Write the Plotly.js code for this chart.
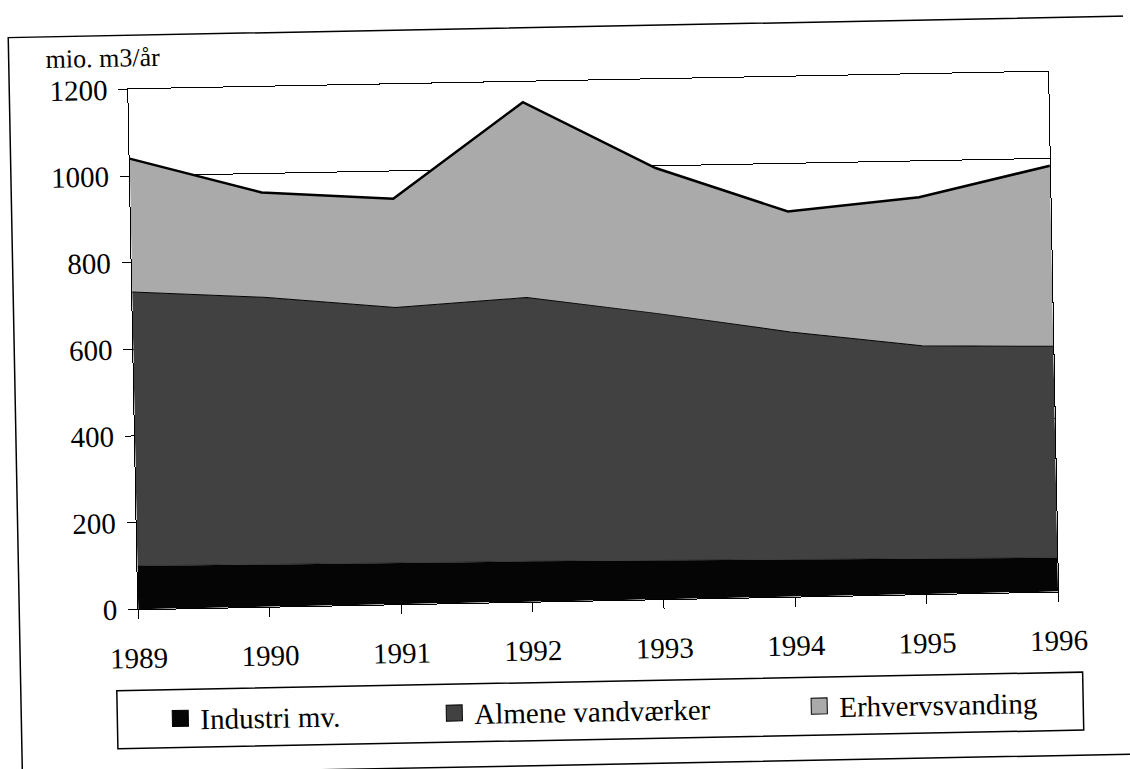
<!DOCTYPE html>
<html>
<head>
<meta charset="utf-8">
<script src="https://cdn.plot.ly/plotly-3.0.1.min.js"></script>
<style>
html, body { margin:0; padding:0; overflow:hidden; background:#fff; width:1130px; height:769px; }
#chart { width:1130px; height:769px; transform: rotate(-1.1deg); transform-origin: 565px 384.5px; }
</style>
</head>
<body>
<div id="chart"></div>
<script>
// Data (mio. m3 per year)
const years = [1989, 1990, 1991, 1992, 1993, 1994, 1995, 1996];
const industri = [100, 97, 95, 93, 89, 86, 82, 78];
const almene   = [632, 617, 590, 609, 570, 525, 491, 488];
const erhverv  = [308, 242, 251, 451, 336, 278, 343, 417];
const seriesNames = ['Industri mv.', 'Almene vandværker', 'Erhvervsvanding'];
const yTicks = [0, 200, 400, 600, 800, 1000, 1200];
const unitLabel = 'mio. m3/år';

const colInd = '#050505', colAlm = '#414141', colErh = '#aaaaaa';
const serif = 'Liberation Serif';

const traces = [
  {x: years, y: industri, type: 'scatter', mode: 'lines', stackgroup: 'one',
   fillcolor: colInd, line: {color: colInd, width: 0.5}, showlegend: false, hoverinfo: 'skip'},
  {x: years, y: almene, type: 'scatter', mode: 'lines', stackgroup: 'one',
   fillcolor: colAlm, line: {color: '#000', width: 1}, showlegend: false, hoverinfo: 'skip'},
  {x: years, y: erhverv, type: 'scatter', mode: 'lines', stackgroup: 'one',
   fillcolor: colErh, line: {color: '#000', width: 2.5}, showlegend: false, hoverinfo: 'skip'},
  // legend entries
  {x: [null], y: [null], type: 'scatter', mode: 'markers', name: seriesNames[0], legend: 'legend',
   marker: {symbol: 'square', size: 18, color: colInd, line: {color: '#000', width: 1}}},
  {x: [null], y: [null], type: 'scatter', mode: 'markers', name: seriesNames[1], legend: 'legend2',
   marker: {symbol: 'square', size: 18, color: colAlm, line: {color: '#000', width: 1}}},
  {x: [null], y: [null], type: 'scatter', mode: 'markers', name: seriesNames[2], legend: 'legend3',
   marker: {symbol: 'square', size: 18, color: colErh, line: {color: '#000', width: 1}}}
];

const L = 134, R = 76, T = 81, B = 168;
const PW = 1130 - L - R, PH = 769 - T - B;
const px = v => (v - L) / PW;
const py = v => (769 - B - v) / PH;

const legendBase = {
  orientation: 'h', bgcolor: 'rgba(0,0,0,0)', borderwidth: 0,
  font: {family: serif, size: 29, color: '#000'},
  yanchor: 'middle', xanchor: 'left', y: py(711), itemclick: false, itemdoubleclick: false
};

const layout = {
  width: 1130, height: 769,
  margin: {l: L, r: R, t: T, b: B, pad: 0},
  paper_bgcolor: '#fff', plot_bgcolor: '#fff',
  font: {family: serif, color: '#000', size: 28},
  showlegend: true,
  xaxis: {
    range: [1989, 1996], tickmode: 'array', tickvals: years, ticktext: years.map(String),
    ticks: 'outside', ticklen: 9, tickwidth: 1, tickcolor: '#000',
    showline: true, linecolor: '#000', linewidth: 1, mirror: true,
    showgrid: false, zeroline: false, fixedrange: true,
    tickfont: {family: serif, size: 29, color: '#000'}, ticklabelstandoff: 14
  },
  yaxis: {
    range: [0, 1200], tickmode: 'array', tickvals: yTicks,
    ticks: 'outside', ticklen: 9, tickwidth: 1, tickcolor: '#000',
    showline: true, linecolor: '#000', linewidth: 1, mirror: true,
    showgrid: true, gridcolor: '#000', gridwidth: 1, zeroline: false, fixedrange: true,
    tickfont: {family: serif, size: 29, color: '#000'}, ticklabelstandoff: 5
  },
  legend:  Object.assign({}, legendBase, {x: px(154)}),
  legend2: Object.assign({}, legendBase, {x: px(428)}),
  legend3: Object.assign({}, legendBase, {x: px(793)}),
  annotations: [
    {text: unitLabel, xref: 'paper', yref: 'paper', x: px(50), y: py(50),
     xanchor: 'left', yanchor: 'middle', showarrow: false,
     font: {family: serif, size: 26, color: '#000'}}
  ],
  shapes: [
    {type: 'rect', xref: 'paper', yref: 'paper', x0: px(15), x1: px(1145), y0: py(765), y1: py(27),
     line: {color: '#000', width: 1.5}, fillcolor: 'rgba(0,0,0,0)', layer: 'below'},
    {type: 'rect', xref: 'paper', yref: 'paper', x0: px(111), x1: px(1077), y0: py(740), y1: py(682),
     line: {color: '#000', width: 1.5}, fillcolor: 'rgba(0,0,0,0)', layer: 'below'}
  ]
};

Plotly.newPlot('chart', traces, layout, {staticPlot: true, displayModeBar: false});
</script>
</body>
</html>
